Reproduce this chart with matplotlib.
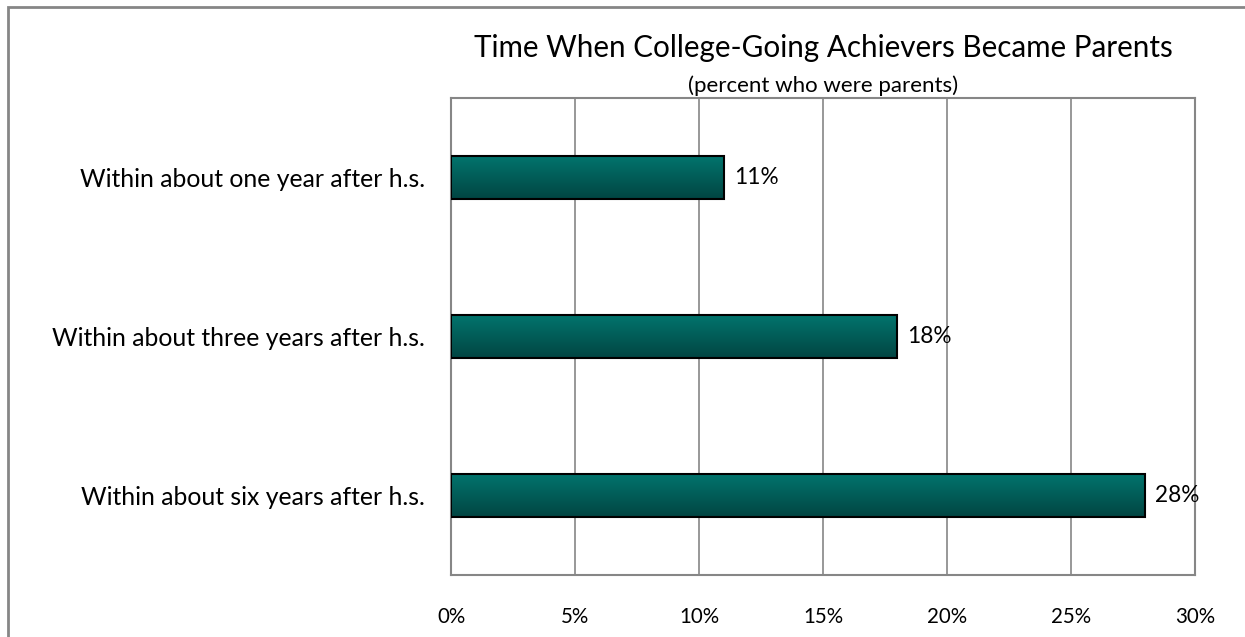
import matplotlib
matplotlib.use("Agg")
import matplotlib.pyplot as plt
import numpy as np
from matplotlib.colors import LinearSegmentedColormap
from matplotlib.patches import Rectangle

categories = ["Within about one year after h.s.",
              "Within about three years after h.s.",
              "Within about six years after h.s."]
values = [11, 18, 28]
xticks = [0, 5, 10, 15, 20, 25, 30]
xtick_labels = ["0%", "5%", "10%", "15%", "20%", "25%", "30%"]

plt.rcParams["font.family"] = ["Lato", "DejaVu Sans"]

W, H = 1245, 637
fig = plt.figure(figsize=(W / 100, H / 100), dpi=100)

# outer chart frame (right and bottom edges run off the canvas)
fig.patches.append(Rectangle((8 / W, -0.1), 1.5, 1 - 7 / H + 0.1,
                             transform=fig.transFigure, fill=False,
                             edgecolor="#868686", linewidth=2))

left, right, top, bottom = 451, 1195, 98, 575
ax = fig.add_axes([left / W, 1 - bottom / H, (right - left) / W, (bottom - top) / H])

y = np.arange(len(categories))
bars = ax.barh(y, values, height=0.27, facecolor="none",
               edgecolor="black", linewidth=1.5, zorder=3)

grad = LinearSegmentedColormap.from_list("teal", ["#01746d", "#024542"])
g = np.linspace(0, 1, 256).reshape(-1, 1)
for b in bars:
    x0, y0 = b.get_x(), b.get_y()
    w, h = b.get_width(), b.get_height()
    ax.imshow(g, cmap=grad, aspect="auto", extent=(x0, x0 + w, y0 + h, y0),
              zorder=2, interpolation="bicubic")

for yi, v in zip(y, values):
    ax.text(v + 0.4, yi, f"{v}%", va="center", ha="left", fontsize=16.3, color="black")

ax.set_xlim(0, 30)
ax.set_ylim(len(categories) - 0.5, -0.5)
ax.set_xticks(xticks)
ax.set_xticklabels(xtick_labels, fontsize=14.8)
ax.set_yticks(y)
ax.set_yticklabels(categories, fontsize=17.8)
ax.tick_params(axis="x", length=0, pad=23)
ax.tick_params(axis="y", length=0, pad=18.5)
ax.grid(axis="x", color="#868686", linewidth=1.2, zorder=1)
ax.set_axisbelow(True)
for s in ax.spines.values():
    s.set_color("#868686")
    s.set_linewidth(1.5)

cx = (left + right) / 2 / W
fig.text(cx, 1 - 48 / H, "Time When College-Going Achievers Became Parents",
         ha="center", va="center", fontsize=21.3)
fig.text(cx, 1 - 86 / H, "(percent who were parents)",
         ha="center", va="center", fontsize=16)

fig.savefig("out.png", dpi=100)
